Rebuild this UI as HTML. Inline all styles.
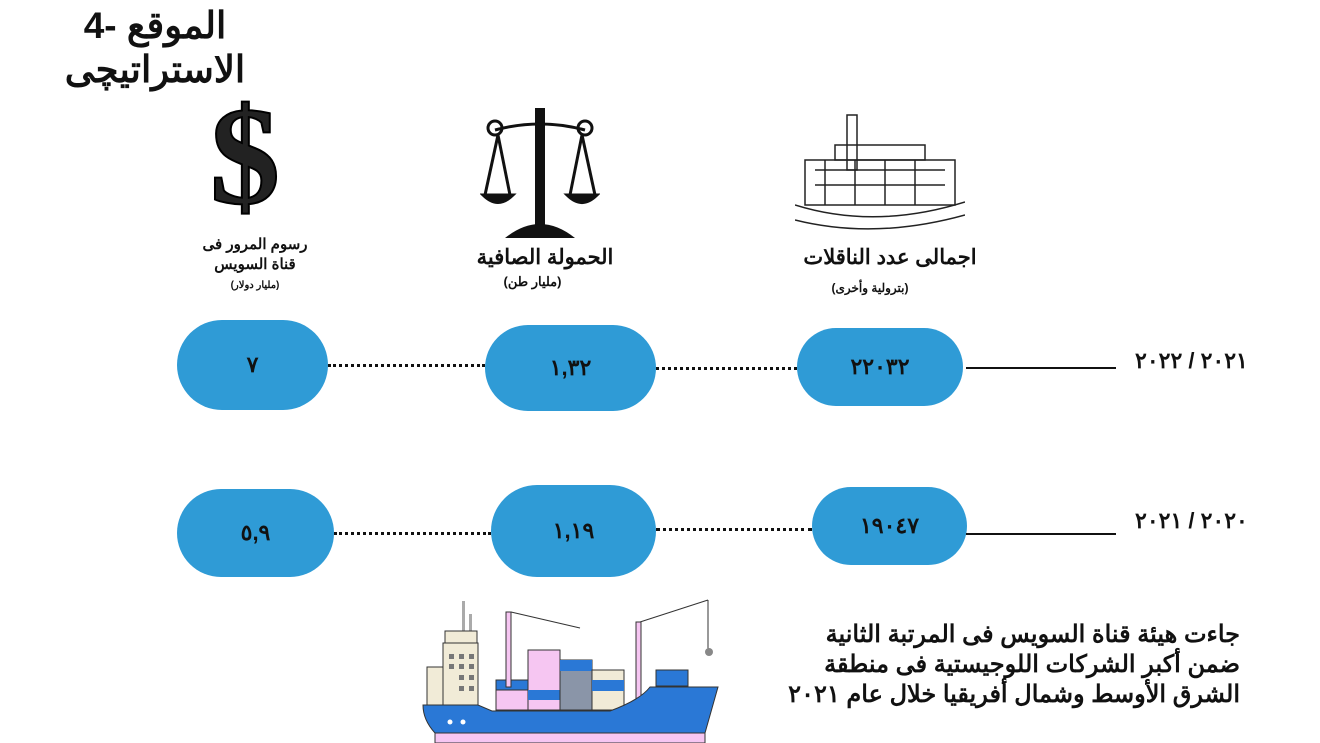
<!DOCTYPE html>
<html><head><meta charset="utf-8"><style>
body{margin:0;width:1320px;height:743px;background:#fff;position:relative;overflow:hidden;font-family:"Liberation Sans","Noto Sans CJK SC",sans-serif;}
.t{position:absolute;color:#111;font-weight:bold;white-space:nowrap;text-align:center;}
.o{position:absolute;background:#2f9bd6;display:flex;align-items:center;justify-content:center;font-weight:bold;font-size:22px;color:#111;border-radius:60px;}
.d{position:absolute;border-top:3px dotted #111;height:0;}
.s{position:absolute;border-top:2px solid #111;height:0;}
</style></head><body>
<div class="t" style="left:40px;top:4px;font-size:37px;line-height:44px;direction:rtl;text-align:center;width:230px">الموقع -4<br>الاستراتيچى</div>
<div class="t" style="left:190px;top:82px;font-size:140px;line-height:150px;width:110px;font-family:'Liberation Serif',serif;color:#222;-webkit-text-stroke:2px #000;">$</div>
<svg style="position:absolute;left:480px;top:100px" width="120" height="140"><g stroke="#111" fill="none" stroke-width="3"><line x1="60" y1="8" x2="60" y2="125" stroke-width="10"/><path d="M15 30 Q60 18 105 30"/><circle cx="15" cy="28" r="7"/><circle cx="105" cy="28" r="7"/><line x1="18" y1="35" x2="5" y2="95"/><line x1="18" y1="35" x2="30" y2="95"/><line x1="102" y1="35" x2="90" y2="95"/><line x1="102" y1="35" x2="115" y2="95"/><path d="M3 95 Q18 110 33 95Z" fill="#111"/><path d="M87 95 Q102 110 117 95Z" fill="#111"/></g><path d="M25 138 Q60 110 95 138Z" fill="#111"/></svg>
<svg style="position:absolute;left:795px;top:90px" width="170" height="150"><g stroke="#222" fill="none" stroke-width="1.5"><rect x="52" y="25" width="10" height="55"/><rect x="10" y="70" width="150" height="45"/><rect x="40" y="55" width="90" height="15"/><path d="M0 115 Q80 140 170 112"/><path d="M0 130 Q80 150 170 125"/><line x1="20" y1="80" x2="150" y2="80"/><line x1="20" y1="95" x2="150" y2="95"/><line x1="30" y1="70" x2="30" y2="115"/><line x1="60" y1="70" x2="60" y2="115"/><line x1="90" y1="70" x2="90" y2="115"/><line x1="120" y1="70" x2="120" y2="115"/></g></svg>
<div class="t" style="left:190px;top:235px;font-size:15px;line-height:20px;width:130px;direction:rtl">رسوم المرور فى<br>قناة السويس</div>
<div class="t" style="left:190px;top:280px;font-size:10px;width:130px;direction:rtl">(مليار دولار)</div>
<div class="t" style="left:450px;top:245px;font-size:21px;width:190px;direction:rtl">الحمولة الصافية</div>
<div class="t" style="left:450px;top:274px;font-size:13px;width:165px;direction:rtl">(مليار طن)</div>
<div class="t" style="left:775px;top:245px;font-size:21px;width:230px;direction:rtl">اجمالى عدد الناقلات</div>
<div class="t" style="left:790px;top:281px;font-size:12px;width:160px;direction:rtl">(بترولية وأخرى)</div>
<div class="o" style="left:177px;top:320px;width:151px;height:90px">٧</div>
<div class="o" style="left:485px;top:325px;width:171px;height:86px">١,٣٢</div>
<div class="o" style="left:797px;top:328px;width:166px;height:78px">٢٢٠٣٢</div>
<div class="o" style="left:177px;top:489px;width:157px;height:88px">٥,٩</div>
<div class="o" style="left:491px;top:485px;width:165px;height:92px">١,١٩</div>
<div class="o" style="left:812px;top:487px;width:155px;height:78px">١٩٠٤٧</div>
<div class="d" style="left:328px;top:364px;width:157px"></div>
<div class="d" style="left:656px;top:367px;width:141px"></div>
<div class="d" style="left:334px;top:532px;width:157px"></div>
<div class="d" style="left:656px;top:528px;width:156px"></div>
<div class="s" style="left:966px;top:367px;width:150px"></div>
<div class="s" style="left:966px;top:533px;width:150px"></div>
<div class="t" style="left:1135px;top:348px;font-size:22px;width:110px">٢٠٢١ / ٢٠٢٢</div>
<div class="t" style="left:1135px;top:508px;font-size:22px;width:110px">٢٠٢٠ / ٢٠٢١</div>
<svg style="position:absolute;left:0;top:0" width="1320" height="743">
<rect x="462" y="601" width="3" height="30" fill="#aaa"/><rect x="469" y="614" width="3" height="18" fill="#aaa"/>
<rect x="445" y="631" width="32" height="12" fill="#f1ebd7" stroke="#333"/>
<rect x="443" y="643" width="35" height="63" fill="#f1ebd7" stroke="#333"/>
<rect x="427" y="667" width="16" height="39" fill="#f1ebd7" stroke="#333"/>
<g fill="#777"><rect x="449" y="654" width="5" height="5"/><rect x="459" y="654" width="5" height="5"/><rect x="469" y="654" width="5" height="5"/><rect x="449" y="664" width="5" height="5"/><rect x="459" y="664" width="5" height="5"/><rect x="469" y="664" width="5" height="5"/><rect x="459" y="675" width="5" height="5"/><rect x="469" y="675" width="5" height="5"/><rect x="459" y="686" width="5" height="5"/><rect x="469" y="686" width="5" height="5"/></g>
<rect x="496" y="680" width="32" height="30" fill="#2a78d6" stroke="#333"/><rect x="496" y="690" width="32" height="20" fill="#f6c6f2" stroke="#333"/>
<rect x="528" y="650" width="32" height="60" fill="#f6c6f2" stroke="#333"/><rect x="528" y="690" width="32" height="10" fill="#2a78d6"/>
<rect x="560" y="660" width="32" height="50" fill="#8a95a8" stroke="#333"/><rect x="560" y="660" width="32" height="11" fill="#2a78d6"/>
<rect x="592" y="670" width="32" height="40" fill="#f1ebd7" stroke="#333"/><rect x="592" y="680" width="32" height="11" fill="#2a78d6"/>
<rect x="506" y="612" width="5" height="75" fill="#f6c6f2" stroke="#333"/><line x1="511" y1="612" x2="580" y2="628" stroke="#333"/>
<rect x="636" y="622" width="5" height="80" fill="#f6c6f2" stroke="#333"/><line x1="640" y1="622" x2="708" y2="600" stroke="#333"/><line x1="708" y1="600" x2="708" y2="650" stroke="#333"/><circle cx="709" cy="652" r="4" fill="#888"/>
<rect x="656" y="670" width="32" height="16" fill="#2a78d6" stroke="#333"/>
<path d="M423 705 L478 705 L492 711 L610 711 Q640 700 650 687 L718 687 L705 733 L435 733 Q423 720 423 705 Z" fill="#2a78d6" stroke="#333"/>
<rect x="435" y="733" width="270" height="10" fill="#f6c6f2" stroke="#333"/>
<circle cx="450" cy="722" r="2.5" fill="#fff"/><circle cx="463" cy="722" r="2.5" fill="#fff"/>
</svg>
<div class="t" style="left:760px;top:620px;font-size:24px;line-height:30px;width:480px;direction:rtl;text-align:right">جاءت هيئة قناة السويس فى المرتبة الثانية<br>ضمن أكبر الشركات اللوجيستية فى منطقة&nbsp;<br>الشرق الأوسط وشمال أفريقيا خلال عام ٢٠٢١</div>
</body></html>
